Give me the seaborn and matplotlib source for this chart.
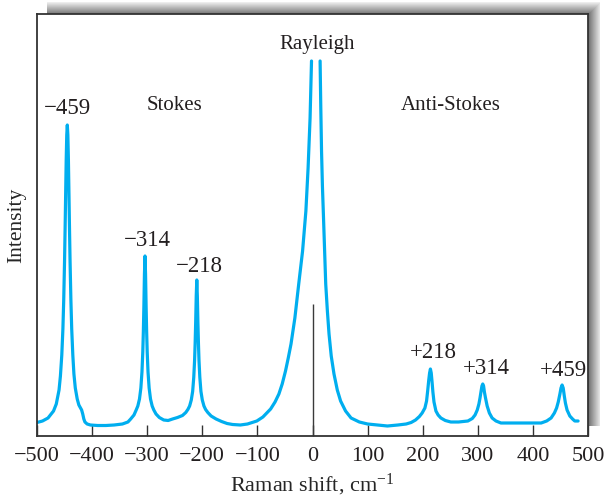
import numpy as np
import seaborn as sns
import matplotlib.pyplot as plt

# Raman spectrum of CCl4 (x in cm^-1, y in arbitrary units)
stokes_x = [-500, -490, -480, -470, -465, -460, -457.5, -455, -453, -451.5, -450, -449, -448,
            -447, -446, -445, -444, -443, -442, -441, -440, -438.5, -437, -435, -433, -430.5,
            -427, -424, -421, -419, -417, -415, -413, -409, -403, -390, -375, -360,
            -345, -335, -330, -324, -320, -317, -314, -311.5, -309.5, -308, -307, -306, -305,
            -304, -303, -302, -301, -300, -298.5, -296.5, -294, -291, -288, -284, -278, -270,
            -262, -254, -245, -236, -230, -226, -223, -220, -217.5, -215.5, -214, -213, -212,
            -211, -210, -209, -208, -207, -206, -204.5, -202.5, -200, -197, -194, -190, -184,
            -175, -165, -155, -145, -131, -118, -101, -90, -76, -68, -61, -55, -49, -44, -39,
            -32, -25, -18, -12, -8, -4.4, -1.8]
stokes_y = [13.5, 15, 18, 25, 32, 46, 60, 81, 107, 136, 175, 207, 242,
            276, 301, 311, 301, 276, 242, 207, 175, 136, 107, 81, 62, 48,
            37, 31, 28, 26, 22, 17, 14, 12, 11, 10.5, 10.5, 11,
            12, 14, 17, 21, 26, 30, 37, 48, 64, 84, 104, 130, 162,
            180, 162, 130, 104, 84, 64, 48, 37, 30, 26, 22, 18.5, 16,
            15.5, 17, 18.5, 20.5, 23.5, 26.7, 30, 36, 44.6, 58.7, 75.6, 92.5, 114,
            140, 156, 140, 114, 92.5, 75.6, 58.7, 44.6, 36, 30, 26.5, 23.5, 20,
            17, 14.5, 12.5, 11.5, 11, 12, 15, 19, 27, 34, 42, 52, 65, 78, 92,
            118, 152, 185, 225, 268, 318, 375]

anti_x = [13.8, 15, 16.4, 18, 20, 22, 24, 27, 30, 34, 39, 45, 51, 60, 70, 85, 100, 118, 136,
          155, 170, 179, 187, 194, 199, 204, 207, 209, 211, 212.5, 214, 215.5, 217, 218.5,
          220.5, 224, 228, 233, 241, 251, 265, 282, 290, 295, 299, 302, 304, 306, 307.5, 309,
          310.5, 312, 314, 317, 321, 326, 333, 342, 380, 415, 425, 433, 439, 443, 446, 449,
          451, 453, 455, 457, 459, 462, 467, 472, 476, 482]
anti_y = [375, 330, 285, 250, 218, 185, 152, 125, 102, 80, 62, 46, 35, 25, 18, 14, 12, 11, 10,
          11, 12, 13.5, 16, 19.5, 23, 28, 35, 45, 56, 63, 67, 63, 54, 44,
          34, 25, 21, 18, 15.5, 14, 14, 15, 17.5, 21, 26, 32, 38, 45, 50, 52,
          50, 44, 38, 30, 23, 18, 15, 13, 13, 13, 15, 18, 23, 28, 34, 42,
          48, 51, 48, 40, 33, 26, 20, 17, 15, 15]

peak_labels = ["\u2212459", "\u2212314", "\u2212218", "+218", "+314", "+459"]
peak_label_x = [-445, -300, -206, 219, 315, 455]
peak_label_y = [328, 195, 169, 83, 67, 65]

region_labels = ["Stokes", "Rayleigh", "Anti-Stokes"]
region_label_x = [-250, 8, 250]
region_label_y = [330, 391, 330]

CYAN = "#00aeef"
INK = "#231f20"

sns.set_style("ticks")
plt.rcParams["font.family"] = ["Liberation Serif", "DejaVu Serif"]
plt.rcParams["mathtext.fontset"] = "custom"
plt.rcParams["mathtext.rm"] = "Liberation Serif"
plt.rcParams["mathtext.default"] = "regular"
plt.rcParams["text.color"] = INK

W, H = 604, 497
fig = plt.figure(figsize=(W / 100, H / 100), dpi=100)

# soft drop shadow behind the frame (up and to the right)
yy, xx = np.mgrid[0:H, 0:W]
inside = (xx >= 47) & (xx < 600) & (yy >= 2) & (yy < 426)
d = np.minimum(600 - xx, yy - 2)
t = np.clip(d / 11.0, 0, 1)
gray = 0.93 - 0.45 * t
img = np.zeros((H, W, 4))
img[..., 0] = gray
img[..., 1] = gray
img[..., 2] = gray
img[..., 3] = inside.astype(float)
bg = fig.add_axes([0, 0, 1, 1], zorder=0)
bg.imshow(img, extent=(0, W, H, 0), aspect="auto", interpolation="nearest")
bg.axis("off")

ax = fig.add_axes([37 / W, 1 - 436 / H, (588 - 37) / W, (436 - 14) / H], zorder=1)
ax.set_facecolor("white")

sns.lineplot(x=stokes_x, y=stokes_y, ax=ax, color=CYAN, lw=2.3, sort=False, estimator=None)
sns.lineplot(x=anti_x, y=anti_y, ax=ax, color=CYAN, lw=2.3, sort=False, estimator=None)
ax.vlines(0, 0, 132, color="#3a3a3a", lw=1)

for lab, x, y in zip(peak_labels, peak_label_x, peak_label_y):
    ax.text(x, y, lab, ha="center", va="center", fontsize=16.5)
for lab, x, y in zip(region_labels, region_label_x, region_label_y):
    ax.text(x, y, lab, ha="center", va="center", fontsize=15)

ax.set_xlim(-500, 500)
ax.set_ylim(0, 422)
ax.set_xticks(range(-500, 501, 100))
ax.set_yticks([])
ax.tick_params(axis="x", direction="in", length=8, width=1, color="#333333",
               labelsize=16, pad=8, labelcolor=INK)
for s in ax.spines.values():
    s.set_visible(True)
    s.set_color("#333333")
    s.set_linewidth(1.3)

ax.set_xlabel(r"Raman shift, cm$^{-1}$", fontsize=16, labelpad=4)
ax.set_ylabel("Intensity", fontsize=15.5, labelpad=8)

fig.savefig("out.png", dpi=100)
